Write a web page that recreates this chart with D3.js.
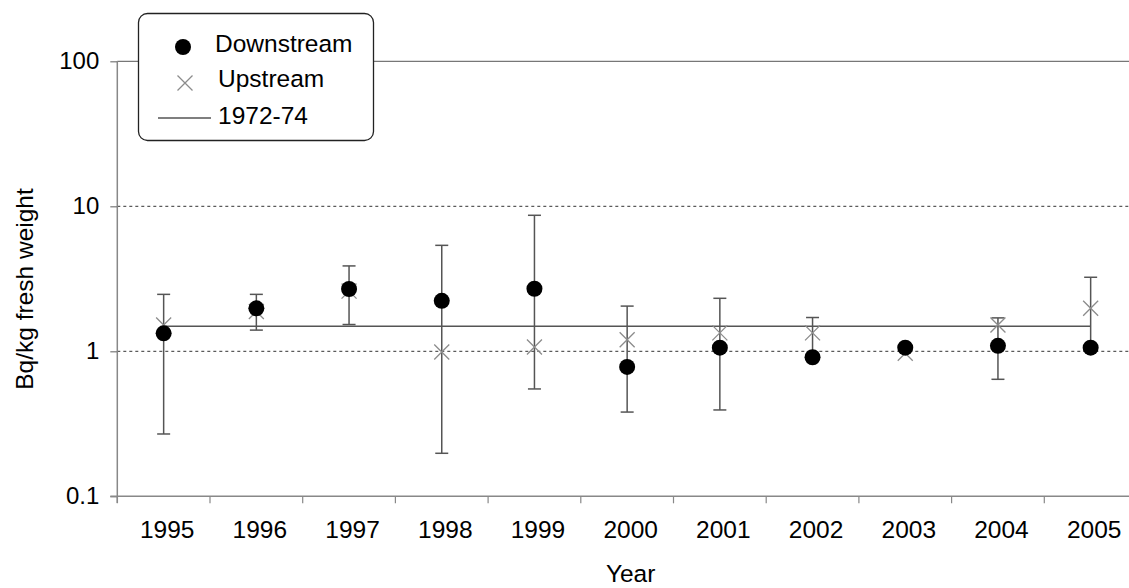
<!DOCTYPE html>
<html>
<head>
<meta charset="utf-8">
<script src="https://cdn.jsdelivr.net/npm/d3@7"></script>
<style>
html,body{margin:0;padding:0;background:#fff;}
svg{display:block;font-family:"Liberation Sans",Arial,sans-serif;}
</style>
</head>
<body>
<svg id="chart" width="1129" height="588"></svg>
<script>
const years = ["1995","1996","1997","1998","1999","2000","2001","2002","2003","2004","2005"];
const downstream = [1.33, 1.98, 2.69, 2.23, 2.70, 0.78, 1.06, 0.91, 1.06, 1.09, 1.06];
const upstream   = [1.52, 1.88, 2.60, 0.99, 1.07, 1.20, 1.34, 1.34, 0.97, 1.52, 1.98];
const errHigh    = [2.47, 2.47, 3.88, 5.38, 8.67, 2.05, 2.32, 1.71, null, 1.70, 3.24];
const errLow     = [0.269, 1.40, 1.53, 0.198, 0.55, 0.381, 0.394, 0.92, null, 0.641, 1.05];
const baseline7274 = 1.49;
const yTicks = [0.1, 1, 10, 100];
const yTickLabels = ["0.1", "1", "10", "100"];
const legendLabels = ["Downstream", "Upstream", "1972-74"];

const svg = d3.select("#chart");
const x0 = 117.3, bw = 92.7;
const x = d3.scaleBand().domain(years).range([x0, x0 + bw * years.length]).padding(0);
const y = d3.scaleLog().domain([0.1, 100]).range([496.3, 61.3]);
const cx = d => x(d) + x.bandwidth() / 2;

// gridlines
svg.append("g").selectAll("line").data([1, 10]).join("line")
  .attr("x1", x0).attr("x2", 1129).attr("y1", d => y(d)).attr("y2", d => y(d))
  .attr("stroke", "#333").attr("stroke-width", 1).attr("stroke-dasharray", "3,3");
svg.append("line").attr("x1", x0).attr("x2", 1129).attr("y1", y(100)).attr("y2", y(100))
  .attr("stroke", "#777").attr("stroke-width", 1.2);

// y axis
const yAxis = d3.axisLeft(y).tickValues(yTicks).tickFormat((d, i) => yTickLabels[i]).tickSize(7).tickPadding(11);
const gy = svg.append("g").attr("transform", `translate(${x0},0)`).call(yAxis);
gy.select(".domain").attr("stroke", "#888").attr("stroke-width", 1.5).attr("d", `M0,${y(100)}V503`);
gy.selectAll(".tick line").attr("stroke", "#777").attr("stroke-width", 1.2);
gy.selectAll(".tick text").attr("font-size", 24).attr("fill", "#000").attr("dx", 0)
  .attr("font-family", "Liberation Sans, Arial, sans-serif");

// x axis
const xAxis = d3.axisBottom(x).tickSize(0).tickPadding(0);
const gx = svg.append("g").attr("transform", `translate(0,${y(0.1)})`).call(xAxis);
gx.select(".domain").attr("stroke", "#888").attr("stroke-width", 1.5).attr("d", `M${x0 - 7},0H1129`);
gx.selectAll(".tick text").attr("font-size", 24.5).attr("fill", "#000").attr("y", 41.5).attr("dy", 0).attr("dx", 3.5)
  .attr("font-family", "Liberation Sans, Arial, sans-serif");
gx.selectAll(".bnd").data(years).join("line").attr("class", "bnd")
  .attr("x1", d => x(d)).attr("x2", d => x(d)).attr("y1", 0).attr("y2", 7)
  .attr("stroke", "#888").attr("stroke-width", 1.2);

// 1972-74 line
svg.append("line")
  .attr("x1", cx(years[0])).attr("x2", cx(years[years.length - 1]))
  .attr("y1", y(baseline7274)).attr("y2", y(baseline7274))
  .attr("stroke", "#555").attr("stroke-width", 1.5);

// error bars
const eb = years.map((yr, i) => ({yr, lo: errLow[i], hi: errHigh[i]})).filter(d => d.hi != null);
const ge = svg.append("g").attr("stroke", "#555").attr("stroke-width", 1.5);
ge.selectAll(".v").data(eb).join("line").attr("class", "v")
  .attr("x1", d => cx(d.yr)).attr("x2", d => cx(d.yr)).attr("y1", d => y(d.hi)).attr("y2", d => y(d.lo));
ge.selectAll(".ch").data(eb).join("line").attr("class", "ch")
  .attr("x1", d => cx(d.yr) - 6.5).attr("x2", d => cx(d.yr) + 6.5).attr("y1", d => y(d.hi)).attr("y2", d => y(d.hi));
ge.selectAll(".cl").data(eb).join("line").attr("class", "cl")
  .attr("x1", d => cx(d.yr) - 6.5).attr("x2", d => cx(d.yr) + 6.5).attr("y1", d => y(d.lo)).attr("y2", d => y(d.lo));

// upstream crosses
const cross = (s) => `M${-s},${-s}L${s},${s}M${-s},${s}L${s},${-s}`;
svg.append("g").selectAll("path").data(years).join("path")
  .attr("transform", (d, i) => `translate(${cx(d)},${y(upstream[i])})`)
  .attr("d", cross(7.5)).attr("stroke", "#8c8c8c").attr("stroke-width", 1.3).attr("fill", "none");

// downstream dots
svg.append("g").selectAll("circle").data(years).join("circle")
  .attr("cx", d => cx(d)).attr("cy", (d, i) => y(downstream[i])).attr("r", 8).attr("fill", "#000");

// legend
const lg = svg.append("g");
lg.append("rect").attr("x", 138.5).attr("y", 13.5).attr("width", 235).attr("height", 127).attr("rx", 9)
  .attr("fill", "#fff").attr("stroke", "#222").attr("stroke-width", 1.3);
lg.append("circle").attr("cx", 183).attr("cy", 47).attr("r", 8).attr("fill", "#000");
lg.append("path").attr("transform", "translate(185,83)").attr("d", cross(7.5))
  .attr("stroke", "#8c8c8c").attr("stroke-width", 1.3).attr("fill", "none");
lg.append("line").attr("x1", 158).attr("x2", 211).attr("y1", 118).attr("y2", 118)
  .attr("stroke", "#555").attr("stroke-width", 1.5);
lg.selectAll("text").data(legendLabels).join("text")
  .attr("x", (d, i) => [215, 218, 218][i]).attr("y", (d, i) => [52, 87, 124][i])
  .attr("font-size", 24.5).attr("fill", "#000").text(d => d);

// titles
svg.append("text").attr("x", (x0 + x0 + bw * years.length) / 2 + 3.5).attr("y", 581.5)
  .attr("text-anchor", "middle").attr("font-size", 24.5).attr("fill", "#000").text("Year");
svg.append("text").attr("transform", "translate(33,289) rotate(-90)")
  .attr("text-anchor", "middle").attr("font-size", 24.5).attr("fill", "#000").text("Bq/kg fresh weight");
</script>
</body>
</html>
